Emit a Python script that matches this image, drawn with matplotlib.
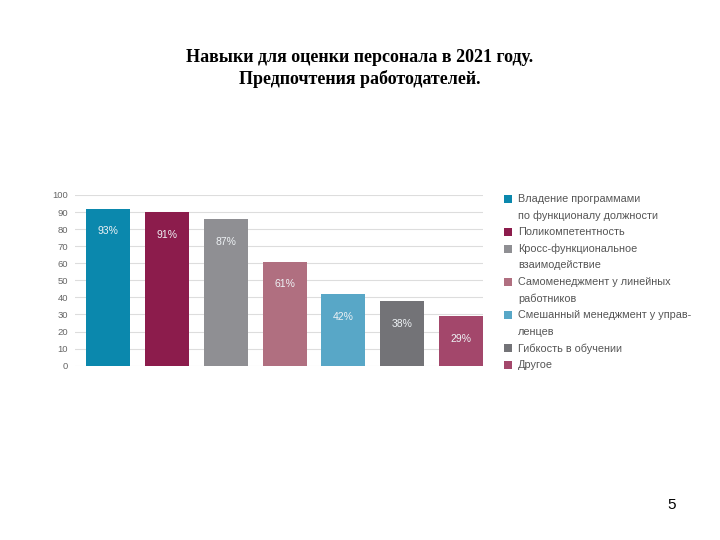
import matplotlib.pyplot as plt
from matplotlib.patches import Rectangle

plt.rcParams['font.family'] = ['Liberation Sans', 'DejaVu Sans']

# данные диаграммы
categories = ['Владение программами\nпо функционалу должности',
              'Поликомпетентность',
              'Кросс-функциональное\nвзаимодействие',
              'Самоменеджмент у линейных\nработников',
              'Смешанный менеджмент у управ-\nленцев',
              'Гибкость в обучении',
              'Другое']
heights = [92, 90, 86, 61, 42, 38, 29]
labels = ['93%', '91%', '87%', '61%', '42%', '38%', '29%']
colors = ['#0b88ad', '#8c1c4c', '#8f8f93', '#b06f80', '#58a7c7', '#737377', '#a3476b']
yticks = list(range(0, 101, 10))

fig = plt.figure(figsize=(7.2, 5.4), dpi=100)
ax = fig.add_axes([0.104, 0.3228, 0.567, 0.3162])

x = range(len(heights))
ax.bar(x, heights, width=0.75, color=colors, zorder=2)
for i, (h, lab) in enumerate(zip(heights, labels)):
    ax.text(i, h - 13.3, lab, ha='center', va='center', color='#eef2f5', fontsize=7.5, zorder=3)

ax.set_xlim(-0.57, 6.38)
ax.set_ylim(0, 100)
ax.set_yticks(yticks)
ax.set_yticklabels([str(t) for t in yticks], fontsize=6.8, color='#666666')
ax.set_xticks([])
ax.tick_params(axis='y', length=0, pad=5)
ax.grid(axis='y', color='#dddddd', linewidth=0.8, zorder=0)
for s in ax.spines.values():
    s.set_visible(False)

# легенда вручную
line_h = 16.6
y0 = 199
row = 0
for cat, c in zip(categories, colors):
    ypix = y0 + row * line_h
    fig.patches.append(Rectangle((504 / 720, 1 - (ypix + 4) / 540), 8 / 720, 8 / 540,
                                 transform=fig.transFigure, facecolor=c, edgecolor='none'))
    for k, line in enumerate(cat.split('\n')):
        yy = ypix + k * line_h
        fig.text(518 / 720, 1 - yy / 540, line, ha='left', va='center', fontsize=7.8, color='#555555')
    row += len(cat.split('\n'))

fig.text(0.5, 1 - 58 / 540, 'Навыки для оценки персонала в 2021 году.', ha='center', va='center',
         fontsize=13, fontweight='bold', family='Liberation Serif')
fig.text(0.5, 1 - 79 / 540, 'Предпочтения работодателей.', ha='center', va='center',
         fontsize=13, fontweight='bold', family='Liberation Serif')
fig.text(672 / 720, 1 - 505 / 540, '5', ha='center', va='center', fontsize=11)

plt.savefig('out.png', dpi=100)
